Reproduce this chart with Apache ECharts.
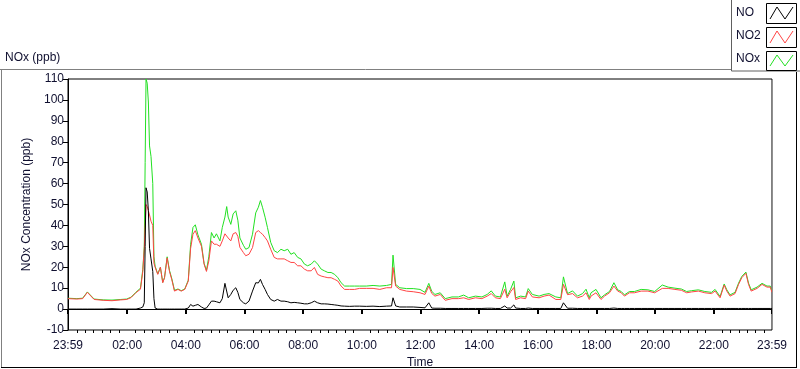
<!DOCTYPE html>
<html>
<head>
<meta charset="utf-8">
<script src="https://cdn.jsdelivr.net/npm/echarts@6/dist/echarts.min.js"></script>
<style>
html,body{margin:0;padding:0;background:#fff;}
#chart{width:800px;height:369px;}
</style>
</head>
<body>
<div id="chart"></div>
<script>
// Time in hours elapsed since 23:59 (start of record)
const hours = [0.00,0.30,0.50,0.66,0.89,1.20,1.50,1.80,2.00,2.15,2.32,2.47,2.55,2.60,2.63,2.66,2.70,2.74,2.78,2.83,2.89,2.93,2.97,3.06,3.15,3.23,3.29,3.38,3.46,3.54,3.63,3.75,3.86,3.98,4.10,4.18,4.26,4.34,4.43,4.55,4.64,4.72,4.80,4.89,4.98,5.06,5.18,5.26,5.35,5.41,5.46,5.55,5.63,5.72,5.79,5.86,5.98,6.06,6.17,6.29,6.40,6.49,6.56,6.63,6.72,6.80,6.91,7.03,7.14,7.26,7.37,7.49,7.60,7.71,7.83,7.94,8.06,8.17,8.29,8.40,8.51,8.63,8.74,8.86,8.97,9.09,9.20,9.31,9.43,9.60,9.77,9.94,10.17,10.40,10.63,10.86,11.03,11.08,11.17,11.31,11.54,11.77,11.83,12.00,12.17,12.30,12.40,12.51,12.69,12.86,13.09,13.31,13.49,13.66,13.89,14.11,14.29,14.43,14.57,14.74,14.89,14.97,15.09,15.20,15.26,15.43,15.60,15.69,15.83,16.06,16.23,16.40,16.63,16.80,16.89,17.03,17.20,17.37,17.54,17.66,17.77,17.83,18.00,18.17,18.29,18.46,18.61,18.74,18.86,18.97,19.14,19.31,19.54,19.77,20.00,20.26,20.46,20.69,20.91,21.09,21.26,21.49,21.71,21.94,22.06,22.23,22.37,22.46,22.57,22.74,22.86,22.97,23.11,23.20,23.29,23.49,23.66,23.83,23.94,24.00];

const no = [0,0,0,0,0,0,0.2,0,0,0,0,0.5,1,3,30,58,56,47,29,24,18,5,0.5,0,0,0,0,0,0,0,0,0,0,0,0.5,2.2,1.4,1.8,2.2,1,0.3,0.5,2,3.8,3.8,3.5,3,5,12.3,12,5.4,7,9,10.2,8,4.6,3,2.5,3.8,8.6,12.6,12.5,14.2,11.8,9.4,7,4.6,3.8,4.6,3.8,3.8,3.5,3,3.2,3,2.8,2.5,2.5,3,3.8,3,2.5,2.5,2.4,2.2,2,1.8,1.5,1.4,1.3,1.4,1.4,1.3,1.4,1.2,1.4,1.5,5.4,1.5,1,1,1,1,0.8,0.6,3,0.5,0.4,0.4,0.3,0.3,0.3,0.3,0.3,0.3,0.3,0.4,0.4,0.3,0.3,1.5,0.5,0.5,2,0.5,0.3,0.3,0.5,0.3,0.3,0.3,0.3,0.3,0.3,3,0.4,0.4,0.3,0.3,0.3,0.3,0.3,0.3,0.3,0.3,0.3,0.5,0.3,0.3,0.3,0.3,0.3,0.3,0.3,0.3,0.3,0.3,0.3,0.3,0.3,0.3,0.3,0.3,0.3,0.3,0.3,0.3,0.3,0.3,0.3,0.3,0.3,0.3,0.3,0.3,0.3,0.3,0.3,0.3,0.3,0.3,0.3];

const no2 = [5.0,4.8,5.0,8.0,4.6,4.2,4.0,4.4,4.6,5.5,7.9,9.5,18,29,40,50,49,47,45,42,40,22,20,16.6,20,12.6,15,24.5,18,14,8.6,9.4,8.6,9.4,13.4,29,35.8,37.5,34,30,21.5,18,23,32.6,31,31,30,32.6,36,36.6,34,32.6,36,36.6,34.8,29.5,27,25.5,26.2,29.4,36.6,37.5,36.6,35.8,34.2,32.6,28.6,24.7,24,24,24,23.1,22.3,22.3,20.7,20.7,19.1,18.3,18.3,19.9,16.6,15.8,15.4,15,15,14.2,13.4,11,9.4,9.4,9.4,9.9,9.9,9.9,9.4,10.2,10.2,19.9,11,9.4,8.6,8.3,8.7,7.8,7,11,7.5,6.2,7,4.2,5,5,5.4,4.6,5.4,5,6.2,7.4,5.4,5,9.5,5.4,8.3,10.3,4.6,5.4,5,8.6,5.8,5.4,6.2,6.7,4.6,4.6,11.8,6.9,7.4,5.4,6.2,7.8,4.6,6.2,7.8,4.6,6.2,7.8,11,8.6,7.8,6.2,7.8,7.8,8.6,8.6,7.8,9.9,9.9,9.4,9,7.8,8.2,8.6,7.8,7.4,8.6,5.4,11.5,8.6,6.2,7.4,11.8,15,17.1,11.8,8.6,9.9,11.8,10.5,10.5,8];

const nox = [5.2,5.0,5.2,8.2,4.8,4.4,4.3,4.6,4.8,5.7,8.1,10,19,30,70,110,108,99,78,73,60,25,20.5,16.8,20,12.8,15,25,18.5,14.5,9,9.6,8.8,9.6,13.8,31,39,40.3,35.5,31,21.8,18.5,25,36.6,34,36,32.6,39,44,49,44,40.5,45.5,47,42.5,34,30.5,28.6,29.4,35.8,46,48.7,51.9,48.7,43.9,39,31.9,27.9,27,28.6,27.9,28.6,26.2,27,24.7,24,21.5,20.7,21.5,23.1,21.5,19.1,18.3,17.5,17.5,16.6,15,12.6,11,11,11,11,11,11.3,11,11.3,11.8,25.8,11.8,10.2,9.8,9.8,9.8,9.4,8,12.3,8.5,7,7.8,5,5.8,5.8,6.7,5.4,6.2,5.8,7,8.7,6.2,5.8,13,6.2,9.5,13.4,5.4,6.2,5.8,9.8,7,6.2,7,7.4,5.8,5.4,15.4,7.4,8.7,6.2,7.4,9.5,5.4,7.8,9.4,5.4,6.8,8.4,12.6,9.2,8.4,6.8,8.4,8.4,9.4,9.2,8.4,11.5,10.5,10,9.6,8.4,8.8,9.2,8.4,8,9.4,6,12,9.2,6.8,8,12.4,15.6,17.7,12.4,9.2,10.5,12.3,11,11,8.5];

// Axis ticks
const tickHours = [0, 2+1/60, 4+1/60, 6+1/60, 8+1/60, 10+1/60, 12+1/60, 14+1/60, 16+1/60, 18+1/60, 20+1/60, 22+1/60, 24];
const tickLabels = ['23:59','02:00','04:00','06:00','08:00','10:00','12:00','14:00','16:00','18:00','20:00','22:00','23:59'];
const yTicks = {min: -10, max: 110, step: 10};

// minor tick positions (7 sub-divisions of each 2 h major interval)
const minorHours = [];
for (let k = 0; k <= 84; k++) {
  if (k % 7 === 0) continue;
  const h = (k * 120 / 7 + 1) / 60;
  if (h > 0 && h < 24) minorHours.push(h);
}

const pair = arr => hours.map((h, i) => [h, arr[i]]);
const txt = '#101030';
const font = 'Liberation Sans, Arial, sans-serif';

const chart = echarts.init(document.getElementById('chart'), null, {renderer: 'canvas'});
chart.setOption({
  animation: false,
  backgroundColor: '#fff',
  textStyle: {fontFamily: font},
  title: {
    text: 'NOx (ppb)', left: 5, top: 52, padding: 0,
    textStyle: {fontSize: 12, fontWeight: 'normal', color: txt, fontFamily: font}
  },
  grid: {left: 68, right: 28, top: 79, bottom: 39, outerBoundsMode: 'none', containLabel: false,
    show: true, borderColor: '#000', borderWidth: 1, backgroundColor: '#fff'},
  xAxis: [{
    type: 'value', min: 0, max: 24,
    name: 'Time', nameLocation: 'middle', nameGap: 27,
    nameTextStyle: {fontSize: 12, color: txt},
    axisLine: {show: true, lineStyle: {color: '#000', width: 1}},
    axisTick: {show: true, customValues: tickHours, length: 5, lineStyle: {color: '#000', width: 2}},
    axisLabel: {show: true, customValues: tickHours, margin: 10, fontSize: 12, color: txt,
      formatter: v => { let best = 0; tickHours.forEach((t, i) => { if (Math.abs(t - v) < Math.abs(tickHours[best] - v)) best = i; }); return tickLabels[best]; }},
    splitLine: {show: false}
  }, {
    type: 'value', min: 0, max: 24, position: 'bottom',
    axisLine: {show: false},
    axisTick: {show: true, customValues: minorHours, length: 3, lineStyle: {color: '#000', width: 1}},
    axisLabel: {show: false},
    splitLine: {show: false}
  }],
  yAxis: {
    type: 'value', min: yTicks.min, max: yTicks.max, interval: yTicks.step,
    name: 'NOx Concentration (ppb)', nameLocation: 'middle', nameGap: 24, nameRotate: 90,
    nameTextStyle: {fontSize: 12, color: txt},
    axisLine: {show: true, lineStyle: {color: '#000', width: 1}},
    axisTick: {show: true, length: 5, lineStyle: {color: '#000'}},
    axisLabel: {fontSize: 12, color: txt, margin: 4},
    splitLine: {show: false}
  },
  series: [
    {name: 'NOx', type: 'line', data: pair(nox), symbol: 'none', lineStyle: {color: '#22e022', width: 1}, itemStyle: {color: '#22e022'}},
    {name: 'NO2', type: 'line', data: pair(no2), symbol: 'none', lineStyle: {color: '#ff4444', width: 1}, itemStyle: {color: '#ff4444'}},
    {name: 'NO', type: 'line', data: pair(no), symbol: 'none', lineStyle: {color: '#000', width: 1}, itemStyle: {color: '#000'}}
  ],
  graphic: [
    // outer panel frame
    {type: 'line', shape: {x1: 0, y1: 69.5, x2: 731, y2: 69.5}, style: {stroke: '#808080', lineWidth: 1}},
    {type: 'line', shape: {x1: 1.5, y1: 69, x2: 1.5, y2: 367}, style: {stroke: '#808080', lineWidth: 1}},
    {type: 'line', shape: {x1: 1, y1: 367.5, x2: 797, y2: 367.5}, style: {stroke: '#000', lineWidth: 1}},
    {type: 'line', shape: {x1: 796.5, y1: 72, x2: 796.5, y2: 368}, style: {stroke: '#000', lineWidth: 1}},
    // right edge of plot area in grey
    {type: 'line', shape: {x1: 772.5, y1: 79, x2: 772.5, y2: 330}, style: {stroke: '#909090', lineWidth: 1}, z: 100},
    // legend box
    {type: 'rect', shape: {x: 731.5, y: -1, width: 70, height: 72}, style: {fill: '#fff', stroke: '#606060', lineWidth: 1}},
    {type: 'text', left: 736, top: 7, style: {text: 'NO', fontSize: 12, fill: txt, fontFamily: font}},
    {type: 'text', left: 736, top: 30, style: {text: 'NO2', fontSize: 12, fill: txt, fontFamily: font}},
    {type: 'text', left: 736, top: 53, style: {text: 'NOx', fontSize: 12, fill: txt, fontFamily: font}},
    {type: 'rect', shape: {x: 766.5, y: 3.5, width: 30, height: 20}, style: {fill: '#fff', stroke: '#000', lineWidth: 1}},
    {type: 'rect', shape: {x: 766.5, y: 27.5, width: 30, height: 20}, style: {fill: '#fff', stroke: '#000', lineWidth: 1}},
    {type: 'rect', shape: {x: 766.5, y: 51.5, width: 30, height: 19}, style: {fill: '#fff', stroke: '#000', lineWidth: 1}},
    {type: 'polyline', shape: {points: [[770, 19], [777, 7], [785, 19], [793, 7]]}, style: {stroke: '#000', fill: null, lineWidth: 1}},
    {type: 'polyline', shape: {points: [[770, 43], [777, 31], [785, 43], [793, 31]]}, style: {stroke: '#ff4444', fill: null, lineWidth: 1}},
    {type: 'polyline', shape: {points: [[770, 66], [777, 55], [785, 66], [793, 55]]}, style: {stroke: '#22e022', fill: null, lineWidth: 1}}
  ]
});
</script>
</body>
</html>
